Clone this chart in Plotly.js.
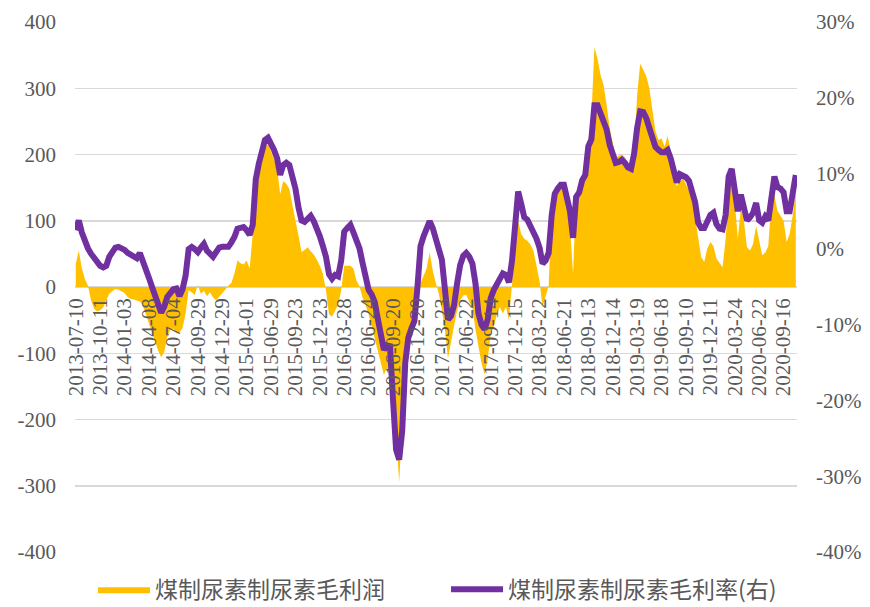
<!DOCTYPE html>
<html><head><meta charset="utf-8">
<script src="https://cdn.plot.ly/plotly-3.0.1.min.js"></script>
<style>
html,body{margin:0;padding:0;background:#fff}
#chart{width:870px;height:607px}
</style>
</head><body><div id="chart"></div>
<script>
const tickLabels = ["2013-07-10","2013-10-11","2014-01-03","2014-04-08","2014-07-04","2014-09-29","2014-12-29","2015-04-01","2015-06-29","2015-09-23","2015-12-23","2016-03-28","2016-06-24","2016-09-20","2016-12-20","2017-03-23","2017-06-22","2017-09-14","2017-12-15","2018-03-22","2018-06-21","2018-09-13","2018-12-14","2019-03-19","2019-06-18","2019-09-10","2019-12-11","2020-03-24","2020-06-22","2020-09-16"];
const samplesPerTick = 8;

const leftTicks = [-400,-300,-200,-100,0,100,200,300,400];
const leftTickText = ["-400","-300","-200","-100","0","100","200","300","400"];
const rightTicks = [-40,-30,-20,-10,0,10,20,30];
const rightTickText = ["-40%","-30%","-20%","-10%","0%","10%","20%","30%"];

// 煤制尿素毛利润 (left axis)
const profit = [35,55,28,12,2,-20,-33,-37,-35,-31,-20,-10,-6,-3,-4,-7,-9,-15,-18,-19,
-20,-22,-28,-42,-56,-71,-84,-96,-106,-98,-76,-64,-63,-70,-69,-62,-40,-5,-8,-12,
3,-10,-6,-14,-8,-16,-20,-15,-10,-4,2,6,20,40,36,34,40,28,80,148,
172,192,210,216,205,193,180,140,160,156,148,122,100,78,53,56,60,54,49,41,
32,20,-5,-41,-45,-36,-27,-5,32,32,32,28,10,1,-16,-28,-42,-60,-79,-96,
-113,-133,-122,-126,-170,-221,-295,-210,-125,-98,-62,-45,-18,6,17,28,52,25,6,-10,
-35,-65,-108,-80,-58,-36,-20,-13,-12,-23,-31,-64,-88,-115,-132,-110,-71,-60,-42,-30,
-40,-30,-50,5,85,100,80,73,70,64,55,30,10,-30,-15,2,115,140,145,150,
145,136,90,20,140,152,165,176,221,255,362,345,320,305,275,240,218,195,198,200,
196,185,185,205,290,337,328,318,300,270,235,222,224,212,228,205,185,152,160,165,
155,145,136,105,75,45,38,58,68,62,43,36,30,72,135,162,130,72,120,100,
60,55,65,92,70,48,52,62,130,138,115,108,100,68,80,108,145];

// 煤制尿素毛利率 (right axis, %)
const margin = [2.5,3.8,2.2,0.8,0.1,-0.6,-1.2,-1.9,-2.2,-2.4,-2.2,-1.0,-0.3,0.2,0.3,0.2,-0.1,-0.5,-0.8,-1.0,
-1.2,-0.5,-1.8,-3.0,-3.8,-5.0,-6.3,-7.5,-8.4,-7.6,-6.3,-5.8,-5.3,-5.2,-6.2,-5.3,-3.5,0.0,0.3,0.0,
-0.4,0.2,0.7,-0.2,-0.7,-1.0,-0.4,0.2,0.3,0.3,0.3,0.9,1.6,2.7,2.9,2.9,2.5,1.9,3.2,9.2,
11.3,13.3,14.4,14.7,14.0,13.1,12.0,9.8,11.1,11.4,11.1,9.7,8.0,5.5,3.8,3.6,4.1,4.4,3.7,2.9,
1.7,0.4,-1.0,-3.3,-3.9,-3.4,-3.6,-1.5,2.3,2.8,3.2,2.2,1.2,0.1,-1.8,-4.0,-5.4,-6.0,-7.0,-9.2,
-11.8,-13.3,-12.7,-12.8,-20.0,-26.5,-27.8,-24.0,-15.0,-11.7,-10.5,-9.5,-5.0,0.4,1.7,2.8,3.7,2.8,1.2,-0.3,
-1.4,-5.3,-9.3,-8.8,-7.4,-4.5,-2.1,-0.9,-0.5,-1.0,-1.9,-4.5,-8.5,-10.0,-10.6,-9.3,-6.5,-5.4,-4.6,-3.8,
-3.2,-3.4,-4.4,-1.5,4.0,7.6,6.0,4.2,3.9,3.1,2.2,1.4,0.2,-1.9,-1.5,-0.5,4.5,7.3,8.0,8.5,
8.5,7.0,5.0,1.5,6.9,7.5,9.1,9.8,13.6,14.5,19.0,19.0,17.8,16.6,15.8,13.8,12.4,11.4,11.5,11.8,
11.4,10.8,10.6,12.6,16.0,18.2,18.1,17.3,16.0,14.5,13.5,13.1,12.8,12.8,13.1,12.0,10.3,8.8,9.9,9.8,
9.5,9.0,7.8,6.2,3.5,2.8,2.8,3.9,4.5,4.8,3.3,2.7,2.6,4.5,9.6,10.6,7.6,5.0,7.2,5.8,
3.8,4.2,4.8,6.1,3.8,3.5,4.3,3.8,7.5,9.6,8.2,8.0,7.5,5.0,5.0,7.8,9.8];

const seriesNames = ["煤制尿素制尿素毛利润", "煤制尿素制尿素毛利率(右)"];

const xIndex = profit.map((_, i) => i);
const tickVals = tickLabels.map((_, j) => j * samplesPerTick);

const serif = "Liberation Serif";
const grey = "#595959";

const traces = [
  {
    x: xIndex, y: profit, type: "scatter", mode: "lines",
    fill: "tozeroy", fillcolor: "#FFC000",
    line: {width: 0, color: "#FFC000"},
    name: seriesNames[0], hoverinfo: "skip"
  },
  {
    x: xIndex, y: margin, type: "scatter", mode: "lines", yaxis: "y2",
    line: {width: 6, color: "#7030A0"},
    name: seriesNames[1], hoverinfo: "skip"
  }
];

const layout = {
  width: 870, height: 607,
  paper_bgcolor: "#fff", plot_bgcolor: "#fff",
  margin: {l: 75, r: 73, t: 22, b: 55, autoexpand: false},
  showlegend: true,
  font: {family: serif, color: grey},
  xaxis: {
    range: [-0.25, xIndex.length - 0.6],
    tickmode: "array", tickvals: tickVals, ticktext: tickLabels,
    tickangle: -90, anchor: "free", position: 0.5,
    showgrid: false, zeroline: false, showline: false, ticks: "",
    ticklabelstandoff: 6,
    tickfont: {family: serif, size: 21, color: grey}
  },
  yaxis: {
    range: [-400, 400], tickmode: "array", tickvals: leftTicks, ticktext: leftTickText,
    showgrid: true, gridcolor: "#d9d9d9", gridwidth: 1.5,
    zeroline: true, zerolinecolor: "#d9d9d9", zerolinewidth: 1.5,
    showline: false, ticks: "", ticklabelstandoff: 18,
    tickfont: {family: serif, size: 21, color: grey}
  },
  yaxis2: {
    range: [-40, 30], tickmode: "array", tickvals: rightTicks, ticktext: rightTickText,
    overlaying: "y", side: "right",
    showgrid: false, zeroline: false, showline: false, ticks: "",
    ticklabelstandoff: 18,
    tickfont: {family: serif, size: 21, color: grey}
  },
  legend: {
    orientation: "h", x: 0.025, xanchor: "left", y: -0.03, yanchor: "top",
    itemwidth: 52, entrywidth: 286, entrywidthmode: "pixels",
    font: {family: "Noto Sans CJK SC", size: 23, color: grey},
    bgcolor: "rgba(0,0,0,0)"
  }
};

Plotly.newPlot("chart", traces, layout, {staticPlot: true, displayModeBar: false});
</script>
</body></html>
